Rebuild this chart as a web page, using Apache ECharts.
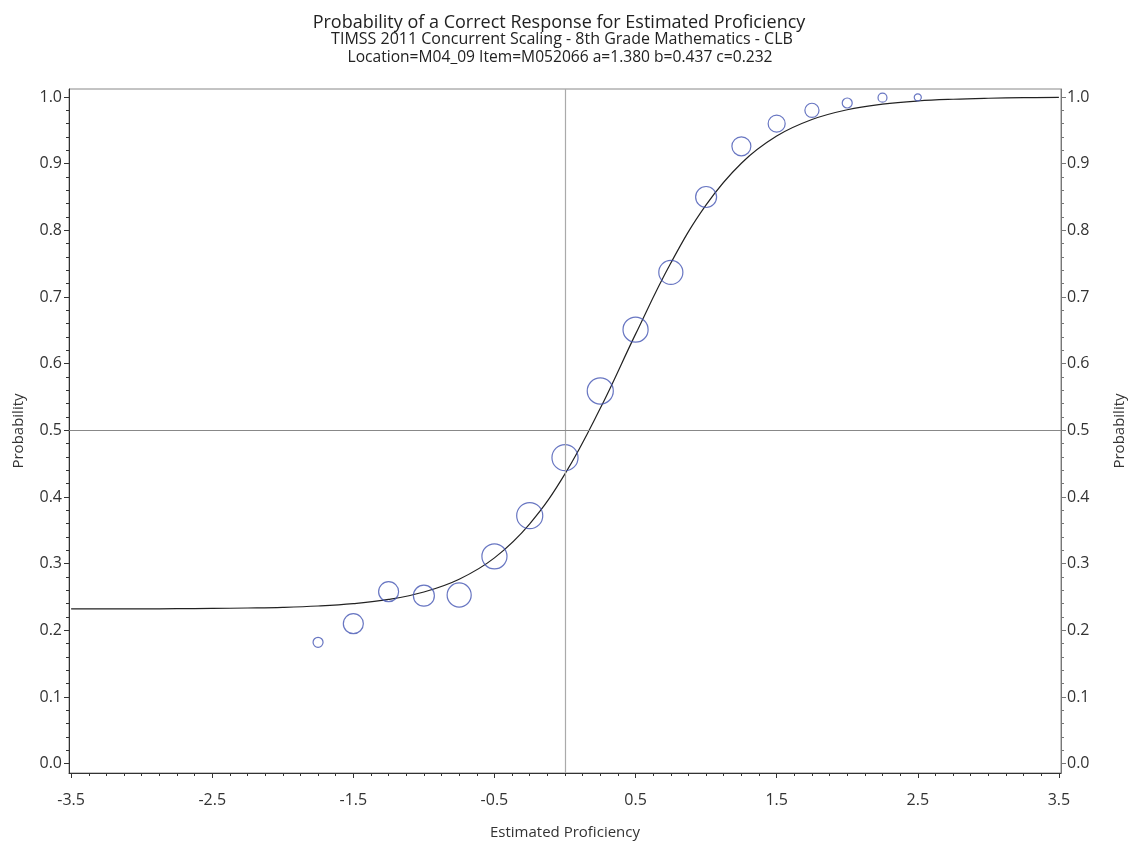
<!DOCTYPE html>
<html>
<head>
<meta charset="utf-8">
<script src="https://cdn.jsdelivr.net/npm/echarts@6/dist/echarts.min.js"></script>
<style>
  html,body{margin:0;padding:0;background:#fff}
  #chart{width:1129px;height:844px}
</style>
</head>
<body>
<div id="chart"></div>
<script>
// fitted item characteristic curve
const curveX=[-3.5,-3.25,-3,-2.75,-2.5,-2.25,-2,-1.75,-1.5,-1.25,-1,-0.75,-0.5,-0.25,0,0.25,0.5,0.75,1,1.25,1.5,1.75,2,2.25,2.5,2.75,3,3.25,3.5]
const curveY=[0.2321,0.2321,0.2322,0.2325,0.2328,0.2335,0.2345,0.2365,0.2401,0.2464,0.2575,0.2767,0.3087,0.3598,0.4347,0.533,0.6443,0.751,0.8382,0.9007,0.9414,0.9662,0.9809,0.9892,0.994,0.9966,0.9981,0.999,0.9994]

// observed proportions correct (circles), weight = relative group size
const obsX=[-1.75,-1.5,-1.25,-1,-0.75,-0.5,-0.25,0,0.25,0.5,0.75,1,1.25,1.5,1.75,2,2.25,2.5]
const obsY=[0.182,0.210,0.258,0.252,0.253,0.311,0.372,0.459,0.559,0.651,0.737,0.850,0.926,0.960,0.980,0.991,0.999,0.9995]
const obsWeight=[1.0,4.0,4.0,4.4,5.8,6.3,6.8,6.8,6.8,6.3,5.8,4.4,3.6,2.9,2.0,1.0,0.8,0.5]

const xTicks=[-3.5,-2.5,-1.5,-0.5,0.5,1.5,2.5,3.5]
const yTicks=[0,0.1,0.2,0.3,0.4,0.5,0.6,0.7,0.8,0.9,1.0]

const titleText='Probability of a Correct Response for Estimated Proficiency'
const subText1='TIMSS 2011 Concurrent Scaling - 8th Grade Mathematics - CLB'
const subText2='Location=M04_09 Item=M052066 a=1.380 b=0.437 c=0.232'

// minor ticks between the major ones
function minorOf(ticks,n){
  const out=[]
  for(let i=0;i<ticks.length-1;i++){
    const step=(ticks[i+1]-ticks[i])/n
    for(let k=1;k<n;k++) out.push(+(ticks[i]+step*k).toFixed(4))
  }
  return out
}

const font='"Open Sans", "DejaVu Sans", sans-serif'
const labelColor='#333'
const xMin=-3.515, xMax=3.515, yMin=-0.014, yMax=1.012

function yAxisDef(pos,major,lineColor){
  return {
    type:'value',position:pos,min:yMin,max:yMax,
    splitLine:{show:false},
    axisLine:{show:major,onZero:false,lineStyle:{color:lineColor,width:1}},
    axisTick:{show:true,length:major?5:3,customValues:major?yTicks:minorOf(yTicks,5),
      lineStyle:{color:lineColor}},
    axisLabel:{show:major,customValues:yTicks,formatter:v=>v.toFixed(1),
      color:labelColor,fontSize:16,fontFamily:font,margin:pos==='left'?7:6},
    name:major?'Probability':'',nameLocation:'middle',nameRotate:90,
    nameGap:pos==='left'?43:51,
    nameTextStyle:{color:labelColor,fontSize:15,fontFamily:font}
  }
}

const myChart=echarts.init(document.querySelector('#chart'),null,{renderer:'canvas'})
const option={
  animation:false,
  backgroundColor:'#fff',
  title:[
    {text:titleText,left:554,textAlign:'center',top:9,textStyle:{fontSize:18,fontWeight:'normal',color:'#222',fontFamily:font}},
    {text:subText1,left:557,textAlign:'center',top:26,textStyle:{fontSize:16,fontWeight:'normal',color:'#222',fontFamily:font}},
    {text:subText2,left:555,textAlign:'center',top:45,textStyle:{fontSize:15.6,fontWeight:'normal',color:'#222',fontFamily:font}}
  ],
  grid:{left:69,top:89,width:992,height:684,outerBoundsMode:'none',containLabel:false,
    show:true,borderColor:'#888',borderWidth:1,backgroundColor:'transparent'},
  xAxis:[
    {
      type:'value',position:'bottom',min:xMin,max:xMax,
      splitLine:{show:false},
      axisLine:{onZero:false,lineStyle:{color:'#333'}},
      axisTick:{length:5,customValues:xTicks,lineStyle:{color:'#333'}},
      axisLabel:{customValues:xTicks,formatter:v=>v.toFixed(1),color:labelColor,fontSize:16,fontFamily:font,margin:19},
      name:'Estimated Proficiency',nameLocation:'middle',nameGap:52,
      nameTextStyle:{color:labelColor,fontSize:15,fontFamily:font}
    },
    {
      type:'value',position:'bottom',min:xMin,max:xMax,
      splitLine:{show:false},
      axisLine:{show:false,onZero:false},
      axisTick:{length:3,customValues:minorOf(xTicks,8),lineStyle:{color:'#333'}},
      axisLabel:{show:false}
    }
  ],
  yAxis:[
    yAxisDef('left',true,'#333'),
    yAxisDef('left',false,'#333'),
    yAxisDef('right',true,'#777'),
    yAxisDef('right',false,'#777')
  ],
  series:[
    {
      name:'curve',type:'line',xAxisIndex:0,yAxisIndex:0,
      data:curveX.map((x,i)=>[x,curveY[i]]),
      smooth:0.4,showSymbol:false,silent:true,
      lineStyle:{color:'#222',width:1.2},
      markLine:{
        silent:true,symbol:'none',label:{show:false},
        data:[
          {xAxis:0,lineStyle:{color:'#aaa',width:1.2,type:'solid'}},
          {yAxis:0.5,lineStyle:{color:'#888',width:1,type:'solid'}}
        ]
      },
      z:3
    },
    {
      name:'observed',type:'scatter',xAxisIndex:0,yAxisIndex:0,
      data:obsX.map((x,i)=>[x,obsY[i],obsWeight[i]]),
      symbol:'circle',
      symbolSize:v=>10*Math.sqrt(v[2]),
      itemStyle:{color:'rgba(0,0,0,0)',borderColor:'#4254b3',borderWidth:1.2},
      z:4
    }
  ]
}
myChart.setOption(option)
</script>
</body>
</html>
